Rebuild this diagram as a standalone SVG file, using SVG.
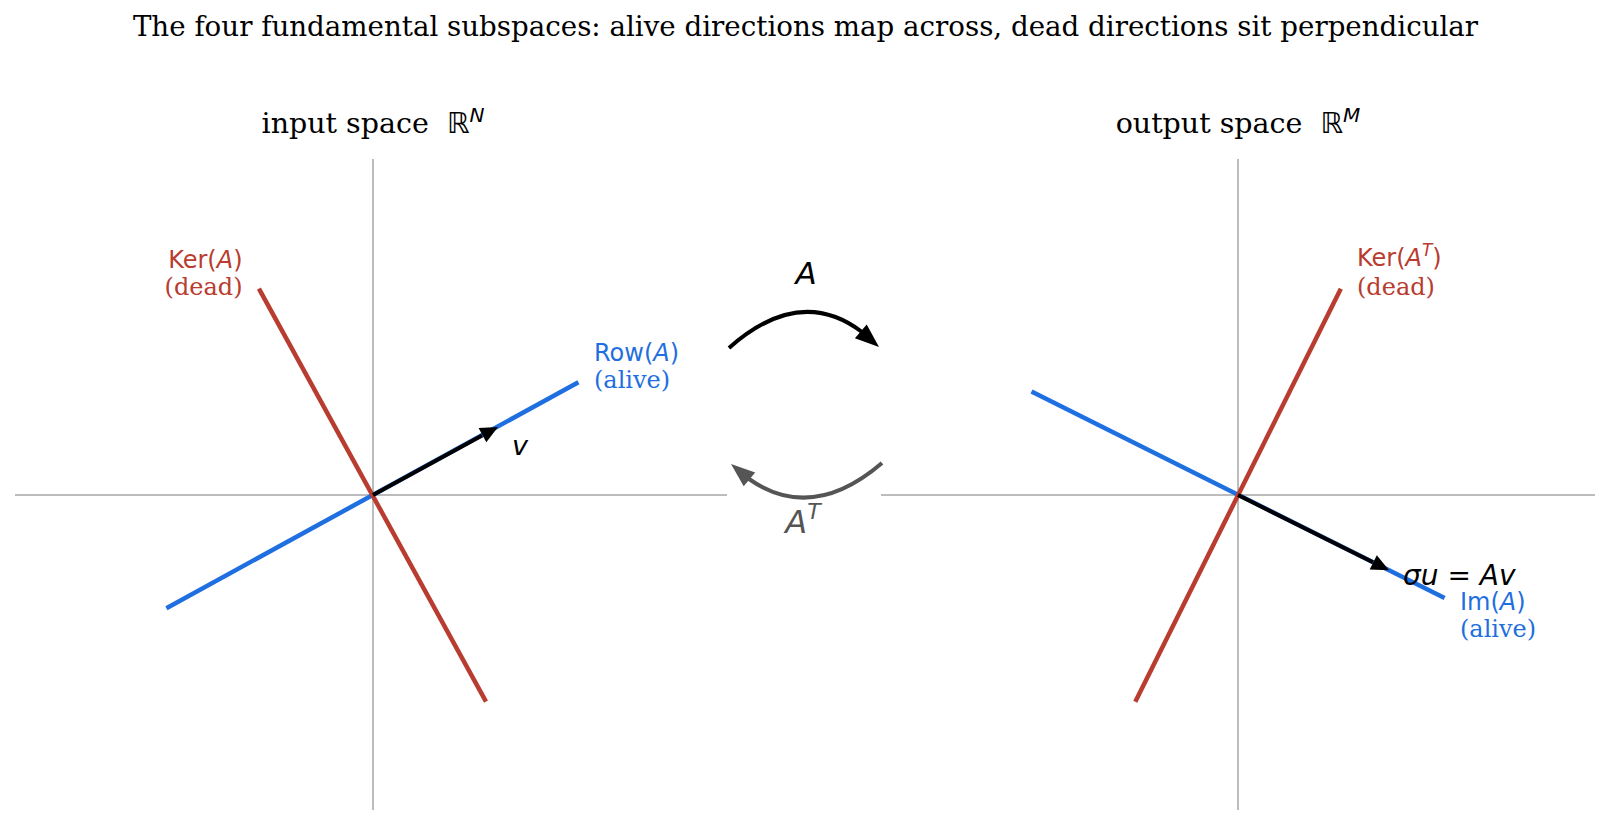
<svg xmlns="http://www.w3.org/2000/svg" width="1611" height="826" viewBox="0 0 1611 826">
<style>
.serif{font-family:"DejaVu Serif","Liberation Serif",serif;}
.sans{font-family:"DejaVu Sans","Liberation Sans",sans-serif;}
.axis{stroke:#7a7a7a;stroke-width:1;fill:none}
.red{stroke:#b83c2f;stroke-width:4.5;fill:none}
.blue{stroke:#1f6fe0;stroke-width:4.5;fill:none}
.redt{fill:#b83c2f}
.bluet{fill:#1f6fe0}
</style>
<rect width="1611" height="826" fill="#fff"/>
<text class="serif" x="805.5" y="36" font-size="27.7" text-anchor="middle">The four fundamental subspaces: alive directions map across, dead directions sit perpendicular</text>

<g id="input-space">
<text class="serif" x="373" y="133" font-size="28.5" text-anchor="middle">input space&#160;&#160;<tspan class="sans">ℝ</tspan><tspan class="sans" font-style="italic" font-size="20" dy="-11">N</tspan></text>
<line class="axis" x1="15" y1="495" x2="727" y2="495"/>
<line class="axis" x1="373" y1="159" x2="373" y2="810"/>
</g>
<g id="output-space">
<text class="serif" x="1238" y="133" font-size="28.5" text-anchor="middle">output space&#160;&#160;<tspan class="sans">ℝ</tspan><tspan class="sans" font-style="italic" font-size="20" dy="-11">M</tspan></text>
<line class="axis" x1="881" y1="495" x2="1595" y2="495"/>
<line class="axis" x1="1238" y1="159" x2="1238" y2="810"/>
</g>

<g id="row-A">
<line class="blue" x1="166.4" y1="608.2" x2="578.4" y2="382.2"/>
<text class="sans bluet" x="594" y="361" font-size="24">Row(<tspan font-style="italic">A</tspan>)</text>
<text class="serif bluet" x="594" y="388" font-size="24">(alive)</text>
</g>
<g id="ker-A">
<line class="red" x1="258.9" y1="288.7" x2="486" y2="701.7"/>
<text class="sans redt" x="242.5" y="268" font-size="24" text-anchor="end">Ker(<tspan font-style="italic">A</tspan>)</text>
<text class="serif redt" x="242.5" y="295" font-size="24" text-anchor="end">(dead)</text>
</g>
<g id="v-vector">
<line x1="373" y1="495" x2="482" y2="435.6" stroke="#000" stroke-width="4"/>
<polygon points="498,427 486.3,442.2 478.6,428.1" fill="#000"/>
<text class="sans" x="512" y="455" font-size="27" font-style="italic">v</text>
</g>

<g id="im-A">
<line class="blue" x1="1031.5" y1="391.4" x2="1444.6" y2="598"/>
<text class="sans bluet" x="1460" y="610" font-size="24">Im(<tspan font-style="italic">A</tspan>)</text>
<text class="serif bluet" x="1460" y="637" font-size="24">(alive)</text>
</g>
<g id="ker-AT">
<line class="red" x1="1135.3" y1="701.7" x2="1340.8" y2="288.7"/>
<text class="sans redt" x="1357" y="266" font-size="24">Ker(<tspan font-style="italic">A</tspan><tspan font-style="italic" font-size="17" dy="-10">T</tspan><tspan dy="10">)</tspan></text>
<text class="serif redt" x="1357" y="295" font-size="24">(dead)</text>
</g>
<g id="sigma-u">
<line x1="1238" y1="495" x2="1373" y2="562.2" stroke="#000" stroke-width="4"/>
<polygon points="1389,570.2 1369.7,569.5 1376.8,555.2" fill="#000"/>
<text class="sans" x="1403" y="585" font-size="28" font-style="italic">σu = Av</text>
</g>

<g id="connectors">
<path d="M729,348 Q800,285 862,332" fill="none" stroke="#000" stroke-width="4"/>
<polygon points="879,347 854.9,338.2 866.7,324.6" fill="#000"/>
<text class="sans" x="806" y="284" font-size="31" font-style="italic" text-anchor="middle">A</text>
<path d="M882,463 Q812,523 749,479" fill="none" stroke="#555" stroke-width="4"/>
<polygon points="731,464 755.2,472.5 743.7,486.3" fill="#555"/>
<text class="sans" x="803" y="533" font-size="32" font-style="italic" fill="#555" text-anchor="middle">A<tspan font-size="22" dy="-14">T</tspan></text>
</g>
</svg>
